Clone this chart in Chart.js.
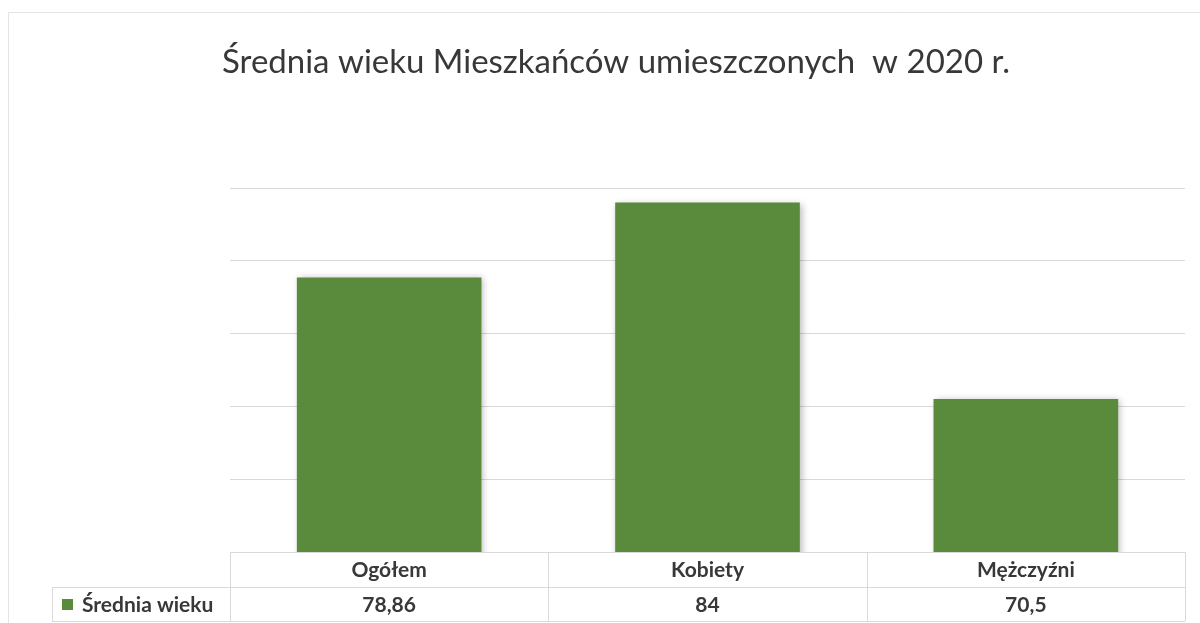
<!DOCTYPE html>
<html lang="pl">
<head>
<meta charset="utf-8">
<title>Średnia wieku Mieszkańców</title>
<script src="https://cdn.jsdelivr.net/npm/chart.js@4"></script>
<style>
  html, body { margin: 0; padding: 0; background: #fff; }
  #wrap { width: 1200px; height: 623px; position: relative; }
</style>
</head>
<body>
<div id="wrap"><canvas id="ageChart" width="1200" height="623"></canvas></div>
<script>
// data
const categories = ['Ogółem', 'Kobiety', 'Mężczyźni'];
const averageAge = [78.86, 84, 70.5];
const seriesName = 'Średnia wieku';
const chartTitle = 'Średnia wieku Mieszkańców umieszczonych  w 2020 r.';
const yMin = 60, yMax = 85, yStep = 5;

const barColor = '#5a8a3c';
const textColor = '#383838';
const lineColor = '#d9d9d9';

function formatPl(v) {
    return String(v).replace('.', ',');
}

// soft shadow under the bars, like the Excel original
const barShadow = {
    id: 'barShadow',
    beforeDatasetsDraw(chart) {
        const ctx = chart.ctx;
        ctx.save();
        ctx.shadowColor = 'rgba(0,0,0,0.28)';
        ctx.shadowBlur = 7;
        ctx.shadowOffsetX = 2;
        ctx.shadowOffsetY = 1;
    },
    afterDatasetsDraw(chart) {
        chart.ctx.restore();
    }
};

// title, frame and the data table under the plot
const dataTable = {
    id: 'dataTable',
    afterDraw(chart) {
        const ctx = chart.ctx;
        const area = chart.chartArea;
        const x = chart.scales.x;
        const colW = (area.right - area.left) / categories.length;
        const row1 = area.bottom, row2 = area.bottom + 35, row3 = area.bottom + 69;
        const legendLeft = 52;

        ctx.save();

        // faint outer frame
        ctx.strokeStyle = '#e4e4e4';
        ctx.lineWidth = 1;
        ctx.beginPath();
        ctx.moveTo(8.5, 623);
        ctx.lineTo(8.5, 12.5);
        ctx.lineTo(1200, 12.5);
        ctx.stroke();

        // title
        ctx.fillStyle = textColor;
        ctx.font = '33px Lato, "Open Sans", sans-serif';
        ctx.textAlign = 'center';
        ctx.textBaseline = 'middle';
        ctx.fillText(chartTitle, 616, 62);

        // table grid
        ctx.strokeStyle = lineColor;
        ctx.beginPath();
        ctx.moveTo(area.left, row1 + 0.5);
        ctx.lineTo(area.right, row1 + 0.5);
        ctx.moveTo(legendLeft, row2 + 0.5);
        ctx.lineTo(area.right, row2 + 0.5);
        ctx.moveTo(legendLeft, row3 + 0.5);
        ctx.lineTo(area.right, row3 + 0.5);
        for (let i = 0; i <= categories.length; i++) {
            const cx = Math.round(area.left + i * colW) + 0.5;
            ctx.moveTo(cx, row1);
            ctx.lineTo(cx, row3);
        }
        ctx.moveTo(legendLeft + 0.5, row2);
        ctx.lineTo(legendLeft + 0.5, row3);
        ctx.stroke();

        // category names and values
        ctx.fillStyle = textColor;
        ctx.font = 'bold 21px Lato, "Open Sans", sans-serif';
        categories.forEach((c, i) => {
            const cx = x.getPixelForValue(i);
            ctx.fillText(c, cx, (row1 + row2) / 2 + 1);
            ctx.fillText(formatPl(averageAge[i]), cx, (row2 + row3) / 2 + 1);
        });

        // legend key
        ctx.fillStyle = barColor;
        ctx.fillRect(62, 599, 11, 11);
        ctx.fillStyle = textColor;
        ctx.textAlign = 'left';
        ctx.font = 'bold 21px Lato, "Open Sans", sans-serif';
        ctx.fillText(seriesName, 82, (row2 + row3) / 2 + 1);

        ctx.restore();
    }
};

const ctx = document.getElementById('ageChart').getContext('2d');
new Chart(ctx, {
    type: 'bar',
    data: {
        labels: categories,
        datasets: [{
            label: seriesName,
            data: averageAge,
            backgroundColor: barColor,
            borderWidth: 0,
            categoryPercentage: 1,
            barPercentage: 0.58
        }]
    },
    options: {
        responsive: false,
        animation: false,
        layout: { padding: { left: 230, right: 15, top: 188, bottom: 71 } },
        scales: {
            x: { display: false },
            y: {
                min: yMin,
                max: yMax,
                ticks: { display: false, stepSize: yStep },
                grid: { color: lineColor, drawTicks: false },
                border: { display: false }
            }
        },
        plugins: {
            legend: { display: false },
            title: { display: false },
            tooltip: { enabled: false }
        }
    },
    plugins: [barShadow, dataTable]
});
</script>
</body>
</html>
